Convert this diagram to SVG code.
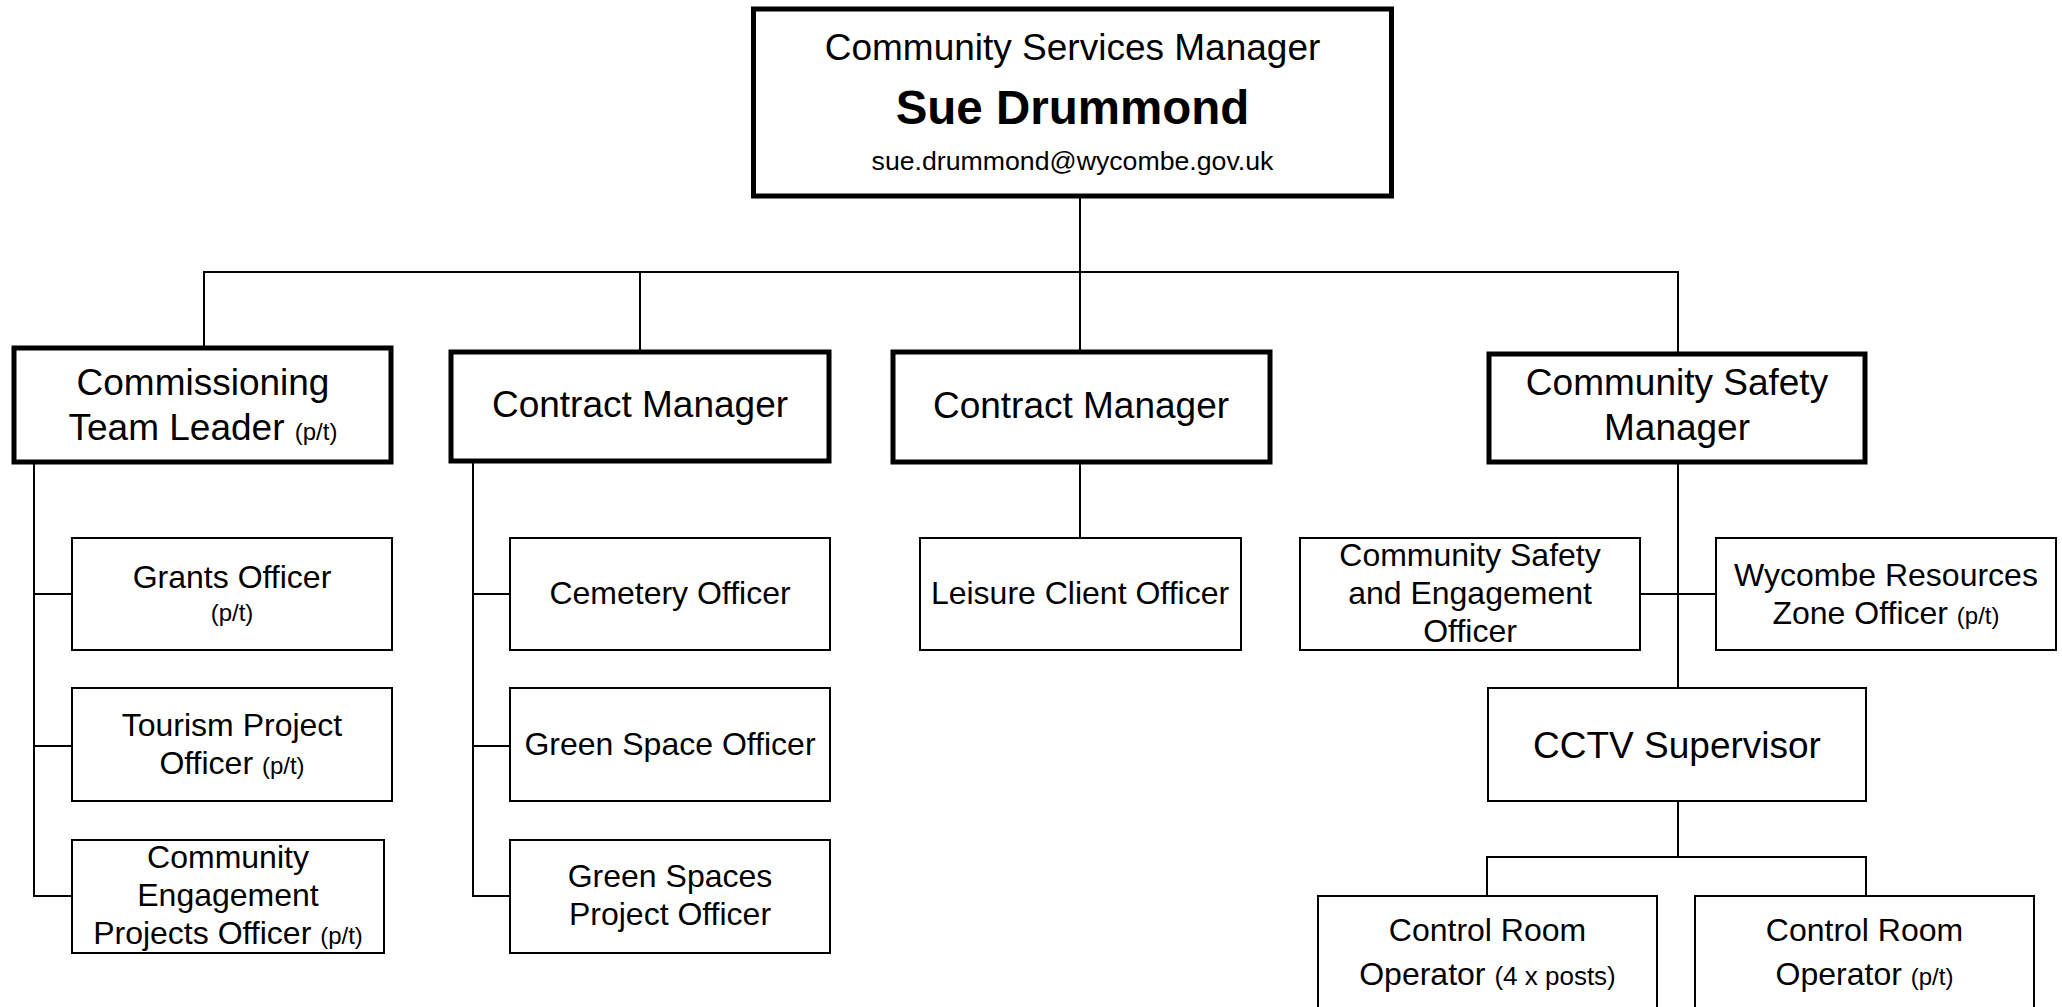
<svg xmlns="http://www.w3.org/2000/svg" width="2062" height="1007" viewBox="0 0 2062 1007">
<style>
  .thick { fill: #fff; stroke: #000; stroke-width: 5; }
  .thin { fill: #fff; stroke: #000; stroke-width: 2; }
  .conn line { stroke: #000; stroke-width: 2; }
  text { font-family: "Liberation Sans", Arial, sans-serif; fill: #000; text-anchor: middle; }
  .big { font-size: 37px; }
  .mid { font-size: 32px; }
  .sm { font-size: 24px; }
</style>
<rect width="2062" height="1007" fill="#fff"/>
<g id="connectors" class="conn">
  <line x1="1080" y1="198" x2="1080" y2="272"/>
  <line x1="203" y1="272" x2="1679" y2="272"/>
  <line x1="204" y1="272" x2="204" y2="346"/>
  <line x1="640" y1="272" x2="640" y2="350"/>
  <line x1="1080" y1="272" x2="1080" y2="350"/>
  <line x1="1678" y1="272" x2="1678" y2="352"/>
  <line x1="34" y1="464" x2="34" y2="897"/>
  <line x1="33" y1="594" x2="72" y2="594"/>
  <line x1="33" y1="746" x2="72" y2="746"/>
  <line x1="33" y1="896" x2="72" y2="896"/>
  <line x1="473" y1="462" x2="473" y2="897"/>
  <line x1="472" y1="594" x2="510" y2="594"/>
  <line x1="472" y1="746" x2="510" y2="746"/>
  <line x1="472" y1="896" x2="510" y2="896"/>
  <line x1="1080" y1="463" x2="1080" y2="538"/>
  <line x1="1678" y1="463" x2="1678" y2="688"/>
  <line x1="1640" y1="594" x2="1716" y2="594"/>
  <line x1="1678" y1="801" x2="1678" y2="857"/>
  <line x1="1486" y1="857" x2="1867" y2="857"/>
  <line x1="1487" y1="857" x2="1487" y2="896"/>
  <line x1="1866" y1="857" x2="1866" y2="896"/>
</g>
<g id="node-csm-top">
  <rect class="thick" x="753.5" y="9" width="638" height="187"/>
  <text x="1072.5" y="60" class="big">Community Services Manager</text>
  <text x="1072.5" y="124" font-size="47.5" font-weight="bold">Sue Drummond</text>
  <text x="1072.5" y="170" font-size="26.7">sue.drummond@wycombe.gov.uk</text>
</g>
<g id="node-ctl">
  <rect class="thick" x="14" y="348" width="377" height="114"/>
  <text x="203" y="395" class="big">Commissioning</text>
  <text x="203" y="440" class="big">Team Leader <tspan class="sm">(p/t)</tspan></text>
</g>
<g id="node-cm1">
  <rect class="thick" x="451" y="352" width="378" height="109"/>
  <text x="640" y="417" class="big">Contract Manager</text>
</g>
<g id="node-cm2">
  <rect class="thick" x="893" y="352" width="377" height="110"/>
  <text x="1081" y="418" class="big">Contract Manager</text>
</g>
<g id="node-csm">
  <rect class="thick" x="1489" y="354" width="376" height="108"/>
  <text x="1677" y="395" class="big">Community Safety</text>
  <text x="1677" y="440" class="big">Manager</text>
</g>
<g id="node-grants">
  <rect class="thin" x="72" y="538" width="320" height="112"/>
  <text x="232" y="588" class="mid">Grants Officer</text>
  <text x="232" y="621" class="sm">(p/t)</text>
</g>
<g id="node-tourism">
  <rect class="thin" x="72" y="688" width="320" height="113"/>
  <text x="232" y="736" class="mid">Tourism Project</text>
  <text x="232" y="774" class="mid">Officer <tspan class="sm">(p/t)</tspan></text>
</g>
<g id="node-cepo">
  <rect class="thin" x="72" y="840" width="312" height="113"/>
  <text x="228" y="868" class="mid">Community</text>
  <text x="228" y="906" class="mid">Engagement</text>
  <text x="228" y="944" class="mid">Projects Officer <tspan class="sm">(p/t)</tspan></text>
</g>
<g id="node-cemetery">
  <rect class="thin" x="510" y="538" width="320" height="112"/>
  <text x="670" y="604" class="mid">Cemetery Officer</text>
</g>
<g id="node-greenspace">
  <rect class="thin" x="510" y="688" width="320" height="113"/>
  <text x="670" y="755" class="mid">Green Space Officer</text>
</g>
<g id="node-greenspaces-project">
  <rect class="thin" x="510" y="840" width="320" height="113"/>
  <text x="670" y="887" class="mid">Green Spaces</text>
  <text x="670" y="925" class="mid">Project Officer</text>
</g>
<g id="node-leisure">
  <rect class="thin" x="920" y="538" width="321" height="112"/>
  <text x="1080" y="604" class="mid">Leisure Client Officer</text>
</g>
<g id="node-cseo">
  <rect class="thin" x="1300" y="538" width="340" height="112"/>
  <text x="1470" y="566" class="mid">Community Safety</text>
  <text x="1470" y="604" class="mid">and Engagement</text>
  <text x="1470" y="642" class="mid">Officer</text>
</g>
<g id="node-wrzo">
  <rect class="thin" x="1716" y="538" width="340" height="112"/>
  <text x="1886" y="586" class="mid">Wycombe Resources</text>
  <text x="1886" y="624" class="mid">Zone Officer <tspan class="sm">(p/t)</tspan></text>
</g>
<g id="node-cctv">
  <rect class="thin" x="1488" y="688" width="378" height="113"/>
  <text x="1677" y="758" class="big">CCTV Supervisor</text>
</g>
<g id="node-cro1">
  <rect class="thin" x="1318" y="896" width="339" height="130"/>
  <text x="1487.5" y="941" class="mid">Control Room</text>
  <text x="1487.5" y="985" class="mid">Operator <tspan font-size="26">(4 x posts)</tspan></text>
</g>
<g id="node-cro2">
  <rect class="thin" x="1695" y="896" width="339" height="130"/>
  <text x="1864.5" y="941" class="mid">Control Room</text>
  <text x="1864.5" y="985" class="mid">Operator <tspan class="sm">(p/t)</tspan></text>
</g>
</svg>
